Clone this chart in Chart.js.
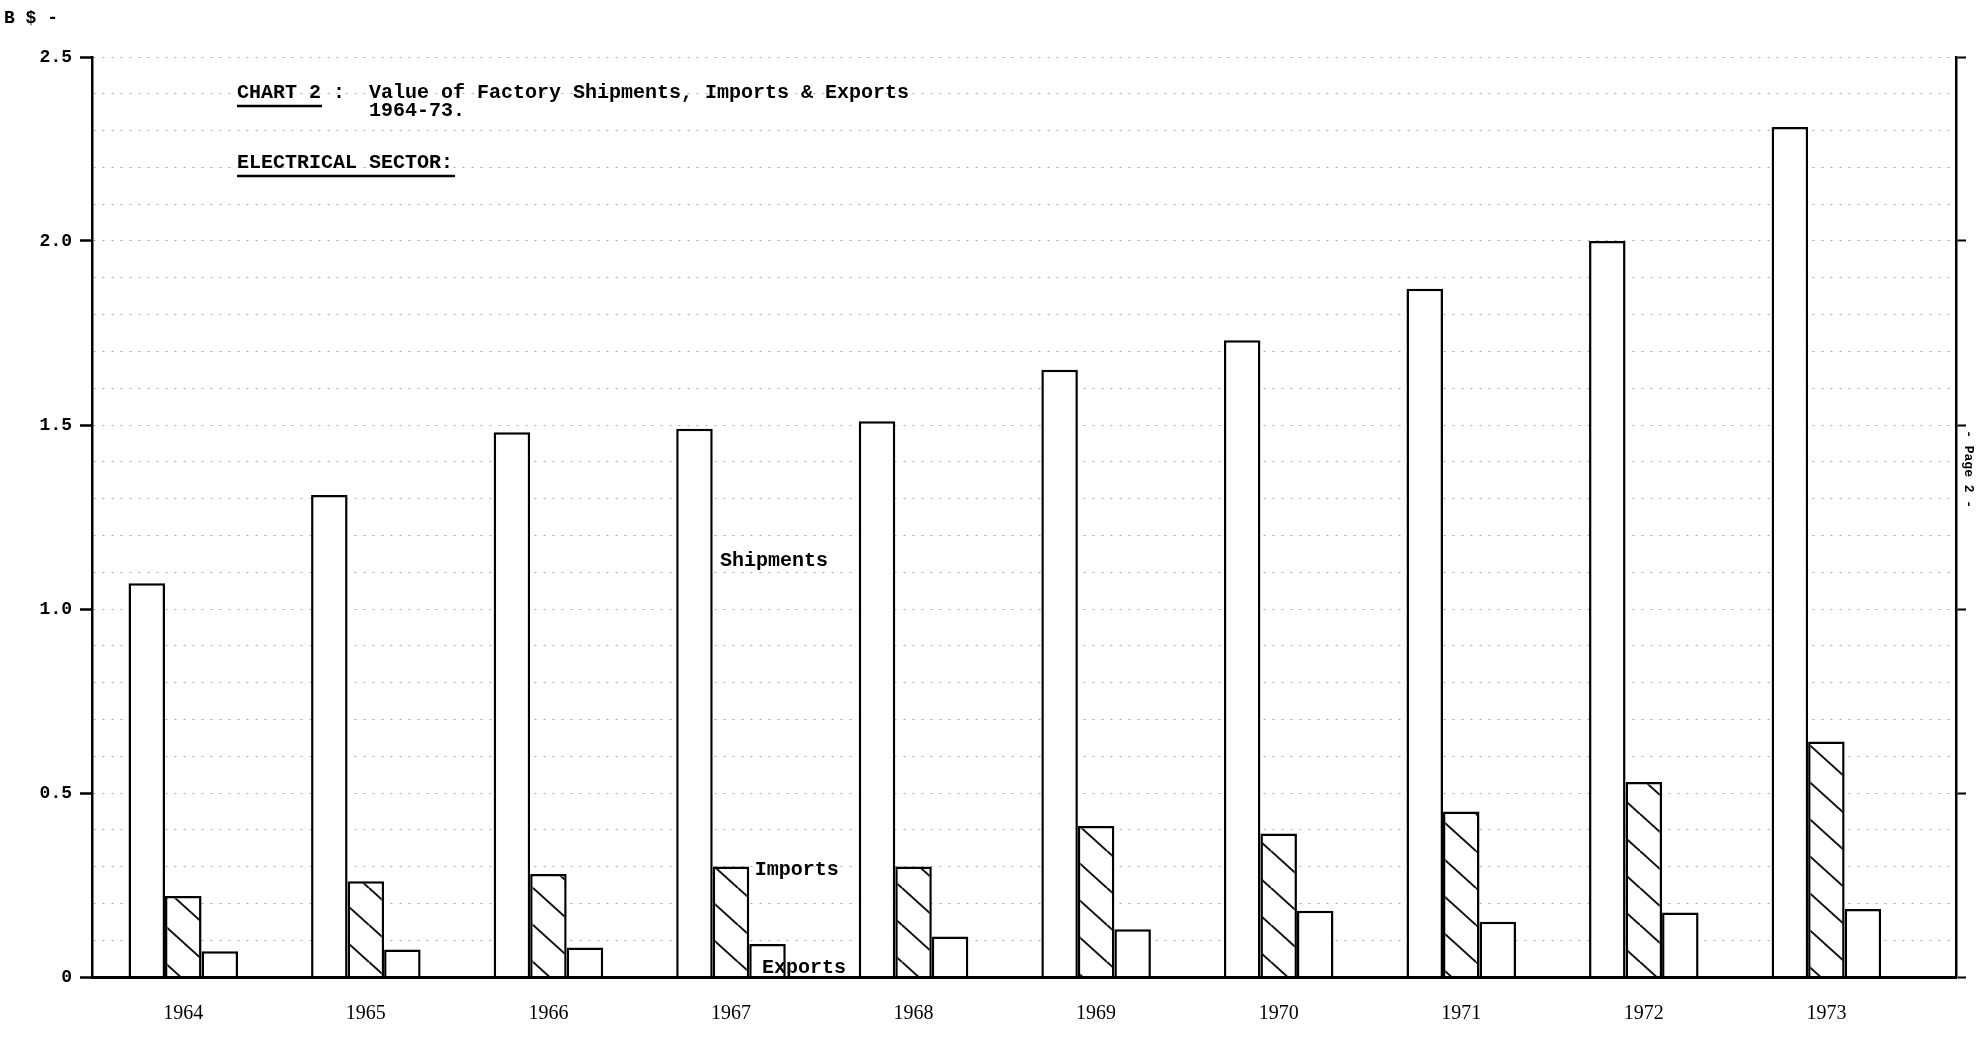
<!DOCTYPE html>
<html>
<head>
<meta charset="utf-8">
<title>Chart 2 - Electrical sector</title>
<script src="https://cdn.jsdelivr.net/npm/chart.js@4.4.0/dist/chart.umd.min.js"></script>
<style>
  html, body { margin: 0; padding: 0; background: #fff; }
  #wrap { width: 1981px; height: 1039px; }
</style>
</head>
<body>
<div id="wrap"><canvas id="chart" width="1981" height="1039"></canvas></div>
<script>
// values in billions of dollars
var years = ['1964', '1965', '1966', '1967', '1968', '1969', '1970', '1971', '1972', '1973'];
var shipments = [1.07, 1.31, 1.48, 1.49, 1.51, 1.65, 1.73, 1.87, 2.00, 2.31];
var imports = [0.22, 0.26, 0.28, 0.30, 0.30, 0.41, 0.39, 0.45, 0.53, 0.64];
var exportValues = [0.07, 0.075, 0.08, 0.09, 0.11, 0.13, 0.18, 0.15, 0.175, 0.185];

var yTickValues = [0, 0.5, 1, 1.5, 2, 2.5];
var yTickLabels = ['0', '0.5', '1.0', '1.5', '2.0', '2.5'];

// typed series names next to the 1967 bars (year units / B$ units)
var seriesNames = ['Shipments', 'Imports', 'Exports'];
var nameX = [1966.94, 1967.13, 1967.17];
var nameY = [1.13, 0.29, 0.025];

var mono = "'Liberation Mono', 'DejaVu Sans Mono', monospace";

function isMajor(v) {
    for (var i = 0; i < yTickValues.length; i++) {
        if (Math.abs(v - yTickValues[i]) < 1e-6) return i;
    }
    return -1;
}

// diagonal hatching for the imports bars
function hatch() {
    var w = 41, h = 37;
    var c = document.createElement('canvas');
    c.width = w;
    c.height = h;
    var g = c.getContext('2d');
    g.fillStyle = '#fff';
    g.fillRect(0, 0, w, h);
    g.strokeStyle = '#111';
    g.lineWidth = 2;
    [-h, 0, h].forEach(function (off) {
        g.beginPath();
        g.moveTo(0, off);
        g.lineTo(w, off + h);
        g.stroke();
    });
    return g.createPattern(c, 'repeat');
}

var paperText = {
    id: 'paperText',
    afterDraw: function (chart) {
        var ctx = chart.ctx;
        var x = chart.scales.x, y = chart.scales.y;
        var area = chart.chartArea;
        ctx.save();
        ctx.fillStyle = '#000';
        ctx.textBaseline = 'middle';
        ctx.textAlign = 'left';

        ctx.font = 'bold 18px ' + mono;
        ctx.fillText('B $ -', 4, 18);

        ctx.font = 'bold 20px ' + mono;
        ctx.fillText('CHART 2 :  Value of Factory Shipments, Imports & Exports', 237, 93);
        ctx.fillText('1964-73.', 369, 111);
        ctx.fillText('ELECTRICAL SECTOR:', 237, 163);

        ctx.strokeStyle = '#000';
        ctx.lineWidth = 2.5;
        ctx.beginPath();
        ctx.moveTo(237, 106); ctx.lineTo(322, 106);
        ctx.moveTo(237, 176); ctx.lineTo(455, 176);
        ctx.stroke();

        // series names, placed through the scales
        for (var i = 0; i < seriesNames.length; i++) {
            ctx.fillText(seriesNames[i], x.getPixelForValue(nameX[i]), y.getPixelForValue(nameY[i]));
        }

        // page mark on the right-hand axis
        ctx.font = 'bold 13px ' + mono;
        ctx.translate(area.right + 12, y.getPixelForValue(1.38));
        ctx.rotate(Math.PI / 2);
        ctx.textAlign = 'center';
        ctx.fillText('- Page 2 -', 0, 0);
        ctx.restore();
    }
};

var config = {
    type: 'bar',
    data: {
        labels: years,
        datasets: [{
            label: seriesNames[0],
            data: shipments,
            backgroundColor: '#fff',
            borderColor: '#000',
            borderWidth: 2.5
        }, {
            label: seriesNames[1],
            data: imports,
            backgroundColor: hatch(),
            borderColor: '#000',
            borderWidth: 2.5
        }, {
            label: seriesNames[2],
            data: exportValues,
            backgroundColor: '#fff',
            borderColor: '#000',
            borderWidth: 2.5
        }]
    },
    options: {
        responsive: false,
        animation: false,
        devicePixelRatio: 1,
        categoryPercentage: 0.6,
        barPercentage: 1.0,
        layout: { padding: { top: 57, left: 0, right: 0, bottom: 0 } },
        plugins: {
            legend: { display: false },
            tooltip: { enabled: false }
        },
        scales: {
            x: {
                type: 'linear',
                min: 1963.5,
                max: 1973.71,
                offset: false,
                grid: { display: false, drawTicks: false, offset: false },
                border: { display: true, color: '#000', width: 3, z: 1 },
                ticks: {
                    stepSize: 1,
                    includeBounds: false,
                    autoSkip: false,
                    maxRotation: 0,
                    padding: 25,
                    color: '#000',
                    font: { family: "'Liberation Serif', serif", size: 20 },
                    callback: function (v) { return Number.isInteger(v) ? String(v) : ''; }
                },
                afterFit: function (s) { s.height = 62; }
            },
            y: {
                position: 'left',
                min: 0,
                max: 2.5,
                grid: {
                    color: 'rgba(0,0,0,0.33)',
                    lineWidth: 1,
                    tickLength: 12,
                    tickWidth: 2.5,
                    tickColor: function (c) { return isMajor(c.tick.value) >= 0 ? '#000' : 'rgba(0,0,0,0)'; }
                },
                border: { display: true, color: '#000', width: 2.5, dash: [2, 7], z: 1 },
                ticks: {
                    stepSize: 0.1,
                    autoSkip: false,
                    padding: 8,
                    color: '#000',
                    font: { family: mono, size: 18, weight: 'bold' },
                    callback: function (v) {
                        var i = isMajor(v);
                        return i >= 0 ? yTickLabels[i] : '';
                    }
                },
                afterFit: function (s) { s.width = 92; }
            },
            y2: {
                position: 'right',
                min: 0,
                max: 2.5,
                grid: {
                    drawOnChartArea: false,
                    tickLength: 10,
                    tickWidth: 2,
                    tickColor: '#000'
                },
                border: { display: true, color: '#000', width: 2.5, z: 1 },
                ticks: {
                    stepSize: 0.5,
                    callback: function () { return ''; }
                },
                afterFit: function (s) { s.width = 25; }
            }
        }
    },
    plugins: [paperText]
};

window.onload = function () {
    var ctx = document.getElementById('chart').getContext('2d');
    window.chart2 = new Chart(ctx, config);
};
</script>
</body>
</html>
